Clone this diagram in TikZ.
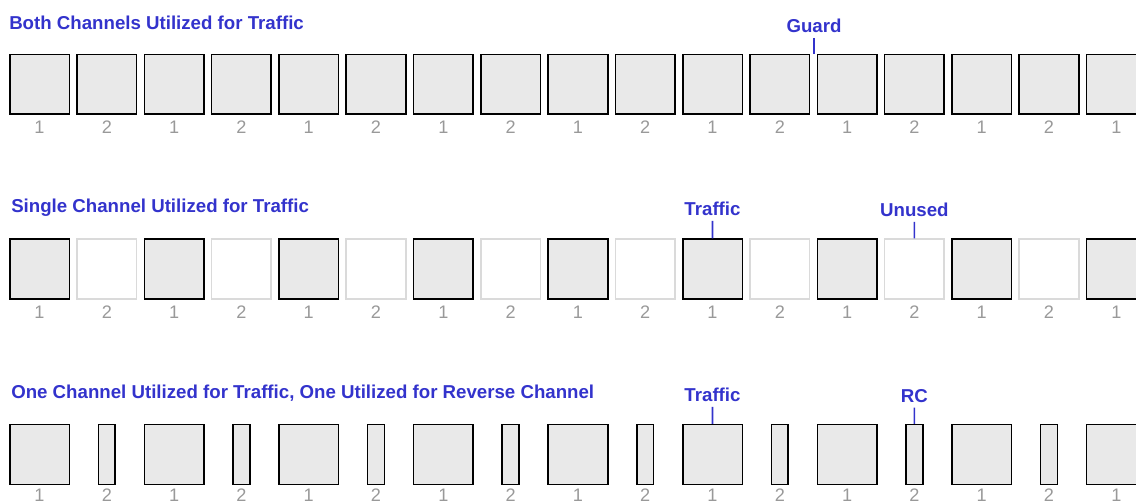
\documentclass[tikz,border=0pt]{standalone}
\usepackage{fontspec}
\setmainfont{Liberation Sans}
\definecolor{titleblue}{RGB}{51,51,204}
\definecolor{slotgray}{RGB}{233,233,233}
\definecolor{numgray}{RGB}{153,153,153}
\definecolor{idlegray}{RGB}{218,218,218}

\begin{document}
\begin{tikzpicture}[x=0.75pt,y=-0.75pt,
  slot/.style={draw=black,fill=slotgray,line width=1.2pt,inner sep=0pt,
    minimum width=44.7pt,minimum height=44.7pt},
  idle/.style={slot,draw=idlegray,fill=white},
  rcslot/.style={slot,minimum width=12.7pt},
  num/.style={text=numgray,inner sep=0pt,font=\fontsize{13.6}{15}\selectfont},
  title/.style={text=titleblue,inner sep=0pt,anchor=base west,
    font=\fontsize{14}{16}\selectfont\bfseries},
  tag/.style={title,anchor=center,inner sep=3.5pt},
  lead/.style={titleblue,line width=1.2pt}]
\useasboundingbox (0,0) rectangle (1136,502);
\clip (0,0) rectangle (1136,502);

\node[title] (both) at (9,30) {Both Channels Utilized for Traffic};
\node[title] (single) at (11,213) {Single Channel Utilized for Traffic};
\node[title] (reverse) at (11,398) {One Channel Utilized for Traffic, One Utilized for Reverse Channel};

% slots, channel 1 and 2 alternating
\foreach \i in {0,...,16} {
  \pgfmathsetmacro{\cx}{39.5+67.3*\i}
  \pgfmathtruncatemacro{\ch}{mod(\i,2)+1}
  \ifodd\i\relax \def\sb{idle}\def\sc{rcslot}\else \def\sb{slot}\def\sc{slot}\fi
  \node[slot] (a\i) at (\cx,84.5) {};
  \node[\sb] (b\i) at (\cx,269) {};
  \node[\sc] (c\i) at (\cx,454.5) {};
  \node[num] (na\i) at (\cx,127.5) {\ch};
  \node[num] (nb\i) at (\cx,312) {\ch};
  \node[num] (nc\i) at (\cx,495) {\ch};
}

\node[tag] (guard) at (814,26) {Guard};
\draw[lead] (guard) -- (guard |- a12.north);

\node[tag] (traffic1) at (712.5,209) {Traffic};
\draw[lead] (traffic1) -- (b10);
\node[tag] (unused) at (914.4,210) {Unused};
\draw[lead] (unused) -- (b13);

\node[tag] (traffic2) at (712.5,395) {Traffic};
\draw[lead] (traffic2) -- (c10);
\node[tag] (rc) at (914.4,396) {RC};
\draw[lead] (rc) -- (c13);

\end{tikzpicture}
\end{document}
